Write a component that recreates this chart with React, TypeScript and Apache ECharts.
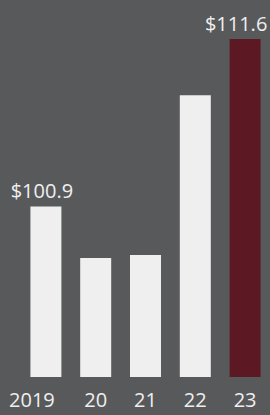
import React, { useEffect, useRef } from "react";
import * as echarts from "echarts";

const categories = ["2019", "20", "21", "22", "23"];
const values = [100.9, 97.6, 97.8, 108.0, 111.6];
const valueLabels = ["$100.9", "", "", "", "$111.6"];

const LIGHT = "#efefef";
const MAROON = "#5d1923";
const BG = "#58595b";
const FONT = "'Open Sans', sans-serif";

export default function App() {
  const ref = useRef<HTMLDivElement>(null);
  useEffect(() => {
    if (!ref.current) return;
    const chart = echarts.init(ref.current, undefined, { renderer: "svg" });
    chart.setOption({
      animation: false,
      backgroundColor: BG,
      grid: { left: 21, right: 0, top: 39, bottom: 38 },
      xAxis: {
        type: "category",
        data: categories.map((c, i) =>
          i === 0 ? { value: c, textStyle: { padding: [0, 28, 0, 0] } } : c
        ),
        axisLine: { show: false },
        axisTick: { show: false },
        axisLabel: {
          interval: 0,
          color: LIGHT,
          fontFamily: FONT,
          fontSize: 20,
          margin: 12,
        },
      },
      yAxis: {
        type: "value",
        min: 90,
        max: 111.6,
        show: false,
        splitLine: { show: false },
      },
      series: [
        {
          type: "bar",
          barWidth: 31,
          data: values.map((v, i) => ({
            value: v,
            itemStyle: { color: i === values.length - 1 ? MAROON : LIGHT },
            label: {
              show: valueLabels[i] !== "",
              position: "top",
              distance: 6,
              offset: i === 0 ? [-4, 0] : [-9, 0],
              formatter: valueLabels[i],
              color: LIGHT,
              fontFamily: FONT,
              fontSize: 20,
            },
          })),
        },
      ],
    });
    return () => chart.dispose();
  }, []);
  return (
    <div
      ref={ref}
      style={{ position: "fixed", left: 0, top: 0, width: 270, height: 415, background: BG }}
    />
  );
}
